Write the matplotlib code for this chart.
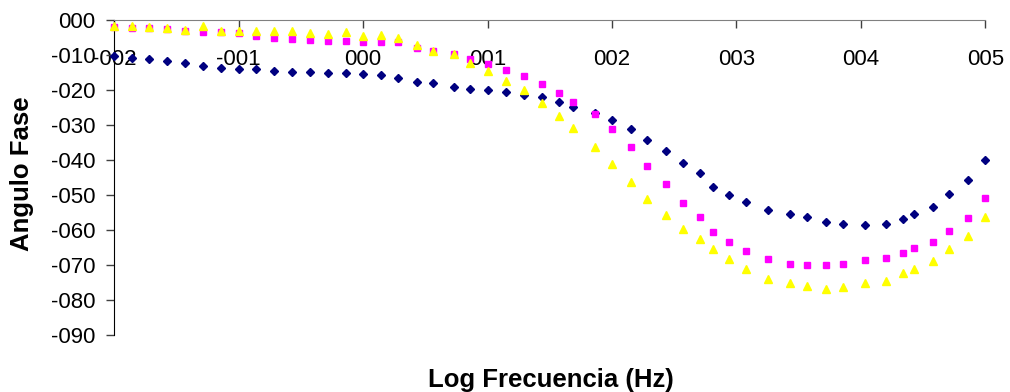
import matplotlib
matplotlib.use("Agg")
import matplotlib.pyplot as plt

plt.rcParams['font.family'] = ['Liberation Sans', 'DejaVu Sans']

# log10 of frequency (Hz)
log_freq = [-2.00, -1.86, -1.72, -1.58, -1.43, -1.29, -1.14, -1.00, -0.86, -0.72,
            -0.57, -0.43, -0.28, -0.14, 0.00, 0.14, 0.28, 0.43, 0.56, 0.73,
            0.86, 1.00, 1.15, 1.29, 1.44, 1.57, 1.69, 1.86, 2.00, 2.15,
            2.28, 2.43, 2.57, 2.71, 2.81, 2.94, 3.08, 3.25, 3.43, 3.57,
            3.72, 3.86, 4.03, 4.20, 4.34, 4.43, 4.58, 4.71, 4.86, 5.00]

# phase angle (deg) for the three series
fase_1 = [-10.2, -10.8, -11.0, -11.7, -12.4, -13.1, -13.6, -13.9, -14.1, -14.5,
          -14.8, -14.8, -15.1, -15.1, -15.4, -15.7, -16.6, -17.6, -18.1, -19.1,
          -19.8, -20.0, -20.7, -21.4, -22.1, -23.5, -24.8, -26.5, -28.6, -31.1,
          -34.2, -37.5, -40.9, -43.7, -47.8, -49.9, -52.1, -54.2, -55.4, -56.3,
          -57.6, -58.3, -58.6, -58.3, -56.9, -55.4, -53.3, -49.8, -45.7, -40.1]
fase_2 = [-1.9, -2.4, -2.4, -2.7, -3.0, -3.4, -3.5, -3.8, -4.5, -5.0,
          -5.4, -5.7, -6.0, -6.0, -6.3, -6.3, -6.4, -8.0, -8.8, -9.8,
          -11.2, -12.6, -14.3, -15.9, -18.3, -20.8, -23.3, -26.9, -31.2, -36.2,
          -41.7, -46.9, -52.2, -56.2, -60.5, -63.3, -66.0, -68.3, -69.7, -70.0,
          -70.0, -69.7, -68.6, -67.9, -66.7, -65.1, -63.3, -60.2, -56.5, -50.9]
fase_3 = [-1.6, -1.8, -2.0, -2.4, -2.9, -1.8, -3.0, -3.2, -3.1, -3.0,
          -3.1, -3.6, -4.1, -3.4, -4.7, -4.4, -5.1, -7.0, -8.8, -9.8,
          -12.4, -14.6, -17.3, -20.0, -23.8, -27.4, -30.8, -36.4, -41.0, -46.2,
          -51.1, -55.8, -59.8, -62.7, -65.4, -68.4, -71.2, -74.0, -75.2, -76.0,
          -76.9, -76.4, -75.2, -74.6, -72.4, -71.2, -68.8, -65.5, -61.6, -56.2]

x_ticks = [-2, -1, 0, 1, 2, 3, 4, 5]
x_tick_labels = ['-002', '-001', '000', '001', '002', '003', '004', '005']
y_ticks = [0, -10, -20, -30, -40, -50, -60, -70, -80, -90]
y_tick_labels = ['000', '-010', '-020', '-030', '-040', '-050', '-060', '-070', '-080', '-090']

fig = plt.figure(figsize=(10.1, 3.92), dpi=100)
ax = fig.add_axes([114.3 / 1010, 1 - 335 / 392, 871 / 1010, 315 / 392])

ax.plot(log_freq, fase_1, linestyle='none', marker='D', markersize=3.8,
        color='#000080', clip_on=False, zorder=3)
ax.plot(log_freq, fase_2, linestyle='none', marker='s', markersize=4.8,
        color='#FF00FF', clip_on=False, zorder=4)
ax.plot(log_freq, fase_3, linestyle='none', marker='^', markersize=5.5,
        color='#FFFF00', clip_on=False, zorder=5)

ax.set_xlim(-2, 5)
ax.set_ylim(-90, 0)

ax.spines['right'].set_visible(False)
ax.spines['top'].set_visible(False)
ax.spines['bottom'].set_position(('data', 0))
ax.spines['bottom'].set_color('#808080')
ax.spines['left'].set_color('black')

ax.set_xticks(x_ticks)
ax.set_xticklabels(x_tick_labels)
ax.set_yticks(y_ticks)
ax.set_yticklabels(y_tick_labels)
ax.tick_params(axis='x', direction='out', length=5.5, width=1, color='#404040',
               pad=15.5, labelsize=16)
ax.tick_params(axis='y', direction='out', length=5.5, width=1, color='#404040',
               pad=8, labelsize=16)

fig.text(551 / 1010, 1 - 380 / 392, 'Log Frecuencia (Hz)', ha='center', va='center',
         fontsize=18.5, fontweight='bold')
fig.text(22 / 1010, 1 - 174 / 392, 'Angulo Fase', ha='center', va='center',
         rotation=90, fontsize=18.5, fontweight='bold')

fig.savefig('out.png', dpi=100)
